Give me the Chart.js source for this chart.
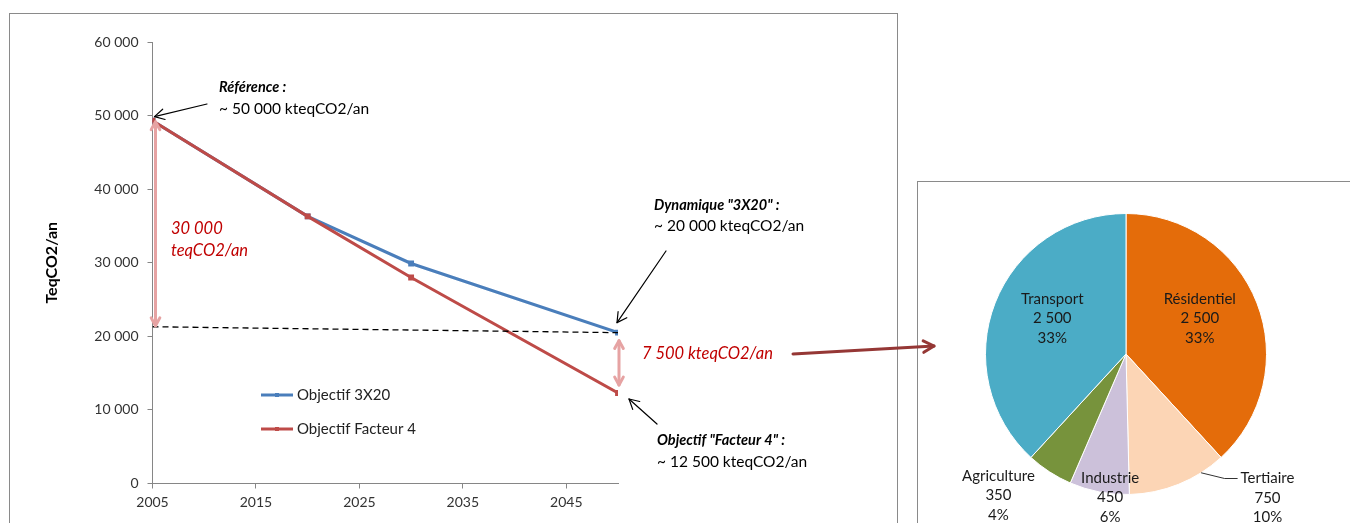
<!DOCTYPE html>
<html>
<head>
<meta charset="utf-8">
<script src="https://cdn.jsdelivr.net/npm/chart.js@4/dist/chart.umd.min.js"></script>
<style>
  html, body { margin: 0; padding: 0; background: #fff; width: 1350px; height: 523px; overflow: hidden; position: relative; }
  #frameLeft { position: absolute; left: 9px; top: 13px; width: 889px; height: 560px; border: 1px solid #8a8a8a; box-sizing: border-box; }
  #framePie { position: absolute; left: 917px; top: 181px; width: 500px; height: 400px; border: 1px solid #8a8a8a; box-sizing: border-box; }
  #pie { position: absolute; left: 918px; top: 182px; z-index: 1; }
  #trend { position: absolute; left: 0; top: 0; z-index: 2; }
</style>
</head>
<body>
<div id="frameLeft"></div>
<div id="framePie"></div>
<canvas id="pie" width="432" height="341"></canvas>
<canvas id="trend" width="960" height="523"></canvas>
<script>
// ---- Emission trajectories (teqCO2/an) ----
const years = [2005, 2020, 2030, 2050];
const objectif3x20 = [49300, 36300, 29900, 20500];
const objectifFacteur4 = [49300, 36300, 28000, 12300];
// reference level reached by the "3X20" dynamic, drawn dashed
const tendanceYears = [2005, 2050];
const tendance = [21300, 20500];
const xTicks = [2005, 2015, 2025, 2035, 2045];
const yTicks = [0, 10000, 20000, 30000, 40000, 50000, 60000];

// ---- Breakdown of the remaining 7 500 kteqCO2/an gap ----
const secteurs = ['Résidentiel', 'Tertiaire', 'Industrie', 'Agriculture', 'Transport'];
const emissions = [2500, 750, 450, 350, 2500];
const parts = ['33%', '10%', '6%', '4%', '33%'];
const secteurColors = ['#E46C0A', '#FCD5B5', '#CCC1DA', '#77933C', '#4BACC6'];

const FONT = 'Lato, "Liberation Sans", sans-serif';
const fmt = n => String(n).replace(/\B(?=(\d{3})+(?!\d))/g, ' ');
const toPts = (xs, ys) => xs.map((x, i) => ({ x, y: ys[i] }));

function arrowHead(ctx, x1, y1, x2, y2, size) {
  const a = Math.atan2(y2 - y1, x2 - x1);
  ctx.beginPath();
  ctx.moveTo(x2 - size * Math.cos(a - 0.5), y2 - size * Math.sin(a - 0.5));
  ctx.lineTo(x2, y2);
  ctx.lineTo(x2 - size * Math.cos(a + 0.5), y2 - size * Math.sin(a + 0.5));
  ctx.stroke();
}
function arrow(ctx, x1, y1, x2, y2, color, width, size, both) {
  ctx.save();
  ctx.strokeStyle = color;
  ctx.lineWidth = width;
  ctx.lineCap = 'round';
  ctx.lineJoin = 'round';
  ctx.beginPath();
  ctx.moveTo(x1, y1);
  ctx.lineTo(x2, y2);
  ctx.stroke();
  arrowHead(ctx, x1, y1, x2, y2, size);
  if (both) arrowHead(ctx, x2, y2, x1, y1, size);
  ctx.restore();
}
function text(ctx, str, x, y, font, color) {
  ctx.save();
  ctx.font = font;
  ctx.fillStyle = color;
  ctx.textBaseline = 'middle';
  ctx.textAlign = 'left';
  ctx.fillText(str, x, y);
  ctx.restore();
}

// Legend drawn inside the plot, one line sample per trajectory
const trajectoryLegend = {
  id: 'trajectoryLegend',
  afterDraw(chart) {
    const ctx = chart.ctx;
    const shown = chart.data.datasets.filter(d => !d.hideInLegend);
    shown.forEach((ds, i) => {
      const y = 395 + i * 34;
      ctx.save();
      ctx.strokeStyle = ds.borderColor;
      ctx.lineWidth = 3;
      ctx.beginPath();
      ctx.moveTo(261, y);
      ctx.lineTo(293, y);
      ctx.stroke();
      ctx.fillStyle = ds.borderColor;
      ctx.fillRect(275, y - 2, 4, 4);
      ctx.restore();
      text(ctx, ds.label, 297, y, '15px ' + FONT, '#222');
    });
  }
};

// Arrows and call-outs on the trajectories
const callouts = {
  id: 'callouts',
  afterDatasetsDraw(chart) {
    const ctx = chart.ctx;
    const xs = chart.scales.x, ys = chart.scales.y;
    const last = years.length - 1;
    const pink = '#E6A3A3';
    const red = '#C00000';
    const bodyFont = '15.5px ' + FONT;
    const headFont = 'italic bold 14.5px ' + FONT;
    const gapFont = 'italic 16.5px ' + FONT;

    // 30 000 gap in 2005
    arrow(ctx, xs.getPixelForValue(2005) + 3, ys.getPixelForValue(objectifFacteur4[0]) + 1,
      xs.getPixelForValue(2005) + 3, ys.getPixelForValue(tendance[0]) - 1, pink, 3, 9, true);
    text(ctx, '30 000', 171, 229, gapFont, red);
    text(ctx, 'teqCO2/an', 171, 251, gapFont, red);

    // 7 500 gap in 2050
    const x50 = xs.getPixelForValue(2050);
    arrow(ctx, x50 + 1, ys.getPixelForValue(objectif3x20[last]) + 8,
      x50 + 1, ys.getPixelForValue(objectifFacteur4[last]) - 8, pink, 3, 9, true);
    text(ctx, '7 500 kteqCO2/an', 642, 354, gapFont, red);
    arrow(ctx, 793, 354, 934, 346, '#953735', 3, 12, false);

    // Référence
    arrow(ctx, 207, 104, xs.getPixelForValue(2005) + 2, ys.getPixelForValue(50000) + 1, '#000', 1.2, 11, false);
    text(ctx, 'Référence :', 219, 87, headFont, '#000');
    text(ctx, '~ 50 000 kteqCO2/an', 219, 109, bodyFont, '#000');

    // Dynamique 3X20
    arrow(ctx, 666, 251, x50 - 1, ys.getPixelForValue(objectif3x20[last]) - 10, '#000', 1.2, 11, false);
    text(ctx, 'Dynamique "3X20" :', 654, 205, headFont, '#000');
    text(ctx, '~ 20 000 kteqCO2/an', 654, 226, bodyFont, '#000');

    // Facteur 4
    arrow(ctx, 657, 424, x50 + 11, ys.getPixelForValue(objectifFacteur4[last]) + 6, '#000', 1.2, 11, false);
    text(ctx, 'Objectif "Facteur 4" :', 657, 440, headFont, '#000');
    text(ctx, '~ 12 500 kteqCO2/an', 657, 462, bodyFont, '#000');
  }
};

new Chart(document.getElementById('trend'), {
  type: 'line',
  data: {
    datasets: [
      { label: 'Objectif 3X20', data: toPts(years, objectif3x20), borderColor: '#4A7EBB', backgroundColor: '#4A7EBB',
        borderWidth: 3, pointRadius: 2, pointStyle: 'rect', order: 2 },
      { label: 'Objectif Facteur 4', data: toPts(years, objectifFacteur4), borderColor: '#BE4B48', backgroundColor: '#BE4B48',
        borderWidth: 3, pointRadius: 2, pointStyle: 'rect', order: 1 },
      { label: 'Tendance', data: toPts(tendanceYears, tendance), borderColor: '#000', borderWidth: 1.3,
        borderDash: [6, 4], pointRadius: 0, order: 0, hideInLegend: true }
    ]
  },
  options: {
    responsive: false,
    animation: false,
    layout: { padding: { left: 0, top: 42, right: 342, bottom: 0 } },
    plugins: { legend: { display: false }, tooltip: { enabled: false } },
    scales: {
      x: {
        type: 'linear', min: 2005, max: 2050,
        afterBuildTicks: s => { s.ticks = xTicks.map(v => ({ value: v })); },
        afterFit: s => { s.height = 39.5; },
        grid: { drawOnChartArea: false, tickLength: 5, color: '#868686' },
        border: { color: '#868686' },
        ticks: { autoSkip: false, maxRotation: 0, padding: 6, color: '#333', font: { family: FONT, size: 14 },
                 callback: v => String(v) }
      },
      y: {
        min: 0, max: 60000,
        afterBuildTicks: s => { s.ticks = yTicks.map(v => ({ value: v })); },
        afterFit: s => { s.width = 152.5; },
        grid: { drawOnChartArea: false, tickLength: 5, color: '#868686' },
        border: { color: '#868686' },
        ticks: { padding: 9, color: '#333', font: { family: FONT, size: 14 }, callback: v => fmt(v) },
        title: { display: true, text: 'TeqCO2/an', color: '#000', font: { family: FONT, size: 16, weight: 'bold' },
                 padding: { top: 42, bottom: 0 } }
      }
    }
  },
  plugins: [callouts, trajectoryLegend]
});

// Sector labels: position of each text block relative to pie centre, in radius units
const pieLabelLayout = {
  'Résidentiel': [0.525, -0.255],
  'Transport': [-0.525, -0.255],
  'Agriculture': [-0.908, 1.005],
  'Industrie': [-0.113, 1.02],
  'Tertiaire': [1.007, 1.025]
};
const pieLabels = {
  id: 'pieLabels',
  afterDatasetsDraw(chart) {
    const ctx = chart.ctx;
    const arcs = chart.getDatasetMeta(0).data;
    arcs.forEach((arc, i) => {
      const name = secteurs[i];
      const [fx, fy] = pieLabelLayout[name];
      const cx = arc.x + fx * arc.outerRadius;
      const cy = arc.y + fy * arc.outerRadius;
      const lines = [name, fmt(emissions[i]), parts[i]];
      ctx.save();
      ctx.font = '15px ' + FONT;
      ctx.fillStyle = '#1a1a1a';
      ctx.textAlign = 'center';
      ctx.textBaseline = 'middle';
      lines.forEach((l, k) => ctx.fillText(l, cx, cy + (k - 1) * 19.5));
      if (name === 'Tertiaire') {
        const a = arc.startAngle + 0.25 * (arc.endAngle - arc.startAngle);
        const sx = arc.x + arc.outerRadius * Math.cos(a);
        const sy = arc.y + arc.outerRadius * Math.sin(a);
        const w = ctx.measureText(name).width;
        const ly = cy - 19.5;
        ctx.strokeStyle = '#333';
        ctx.lineWidth = 1;
        ctx.beginPath();
        ctx.moveTo(sx, sy);
        ctx.lineTo(cx - w / 2 - 16, ly);
        ctx.lineTo(cx - w / 2 - 3, ly);
        ctx.stroke();
      }
      ctx.restore();
    });
  }
};

new Chart(document.getElementById('pie'), {
  type: 'pie',
  data: {
    labels: secteurs,
    datasets: [{ data: emissions, backgroundColor: secteurColors, borderColor: '#fff', borderWidth: 1 }]
  },
  options: {
    responsive: false,
    animation: false,
    layout: { padding: { left: 67, right: 83, top: 31, bottom: 28 } },
    plugins: { legend: { display: false }, tooltip: { enabled: false } }
  },
  plugins: [pieLabels]
});
</script>
</body>
</html>
